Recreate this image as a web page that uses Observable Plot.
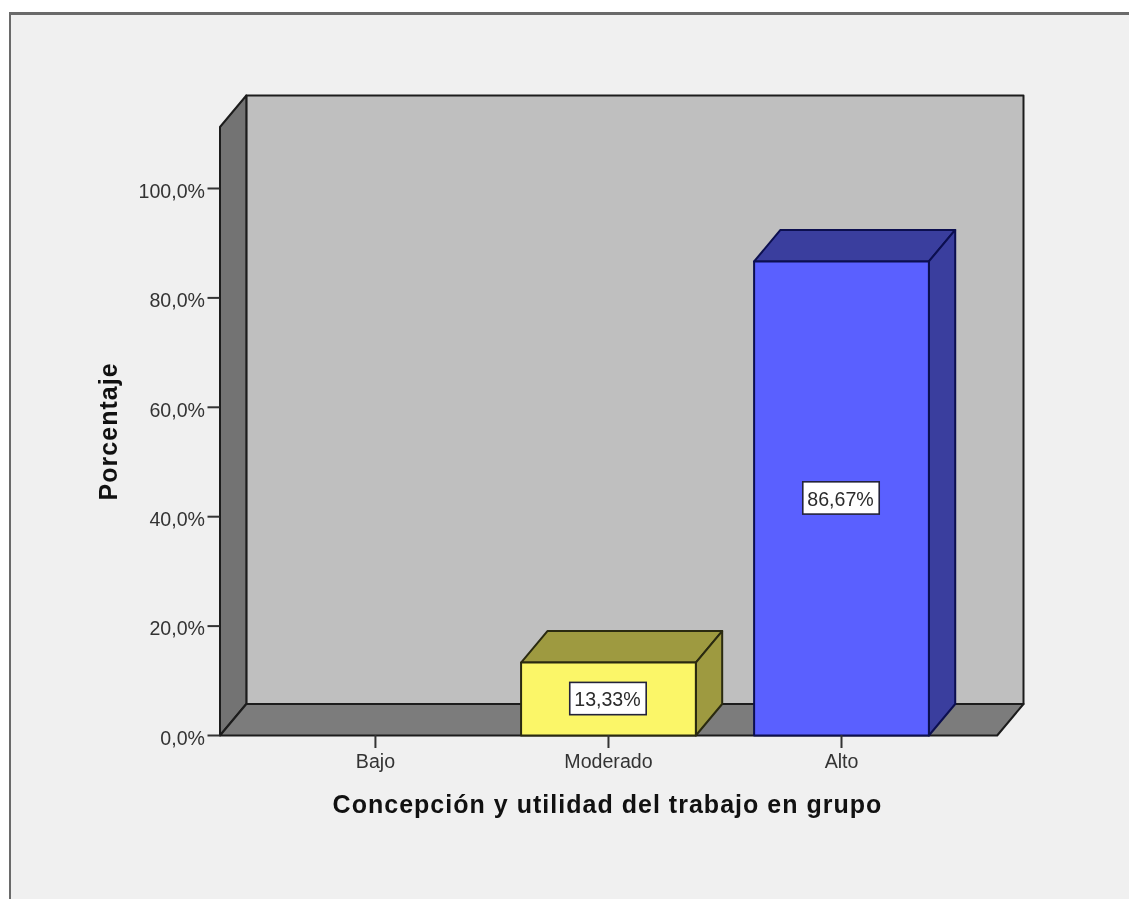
<!DOCTYPE html>
<html lang="es">
<head>
<meta charset="utf-8">
<title>Concepción y utilidad del trabajo en grupo</title>
<script src="https://cdn.jsdelivr.net/npm/d3@7"></script>
<script src="https://cdn.jsdelivr.net/npm/@observablehq/plot@0.6"></script>
<style>
  html, body { margin: 0; padding: 0; background: #fff; }
  #panel { position: fixed; left: 9px; top: 12px; right: 0; bottom: 0; background: #f0f0f0;
           border-left: 2px solid #6a6a6a; border-top: 3px solid #6a6a6a; }
  #chart { position: absolute; left: 0; top: 0; }
  #chart svg { display: block; background: transparent; }
  .axis-title { letter-spacing: 1.02px; }
</style>
</head>
<body>
<div id="panel"></div>
<div id="chart"></div>
<script>
// Survey results: share of respondents per level
const categories = ["Bajo", "Moderado", "Alto"];
const percentages = [0, 13.33, 86.67];
const valueLabels = ["", "13,33%", "86,67%"];
const barFills = ["#ffff66", "#fbf668", "#5a60ff"];
const barTops = ["#9e9a40", "#9e9a40", "#3a3e9e"];
const percentTicks = [0, 20, 40, 60, 80, 100];

// Extents of the pseudo-3D box, in data units
const xStart = -0.667, xEnd = 2.668;
const xDepth = 0.113, yDepth = 5.76;
const yFrontTop = 111.24;
const barHalf = 0.375;
const boxHalfX = 0.164, boxHalfY = 2.95;

const outline = "#1c1c1c";
const tickFont = 19.6;

// A closed polygon in data coordinates
function face(points, fill, stroke = outline) {
  return Plot.line(points.map(([x, y]) => ({x, y})), {
    x: "x", y: "y", fill, stroke, strokeWidth: 2, curve: "linear-closed", strokeLinejoin: "round"
  });
}

const walls = [
  face([[xStart + xDepth, yDepth], [xEnd + xDepth, yDepth], [xEnd + xDepth, yFrontTop + yDepth], [xStart + xDepth, yFrontTop + yDepth]], "#bfbfbf"),
  face([[xStart, 0], [xStart + xDepth, yDepth], [xStart + xDepth, yFrontTop + yDepth], [xStart, yFrontTop]], "#737373"),
  face([[xStart, 0], [xEnd, 0], [xEnd + xDepth, yDepth], [xStart + xDepth, yDepth]], "#7c7c7c")
];

// Each non-empty category becomes a box with front, top and side faces
const bars = percentages.flatMap((v, i) => {
  if (v === 0) return [];
  const a = i - barHalf, b = i + barHalf;
  const edge = i === 2 ? "#0c0f50" : "#2a2a10";
  return [
    face([[a, v], [b, v], [b + xDepth, v + yDepth], [a + xDepth, v + yDepth]], barTops[i], edge),
    face([[b, 0], [b + xDepth, yDepth], [b + xDepth, v + yDepth], [b, v]], barTops[i], edge),
    face([[a, 0], [b, 0], [b, v], [a, v]], barFills[i], edge)
  ];
});

const labelled = categories.map((c, i) => ({i, v: percentages[i], text: valueLabels[i]})).filter(d => d.v > 0);

const chart = Plot.plot({
  width: 1129,
  height: 899,
  marginLeft: 219.5,
  marginRight: 106,
  marginTop: 95,
  marginBottom: 164,
  style: {background: "transparent", fontFamily: "'Liberation Sans', Arial, sans-serif"},
  x: {domain: [xStart, xEnd + xDepth]},
  y: {domain: [0, yFrontTop + yDepth]},
  marks: [
    ...walls,
    ...bars,
    Plot.rect(labelled, {
      x1: d => d.i - boxHalfX, x2: d => d.i + boxHalfX,
      y1: d => d.v / 2 - boxHalfY, y2: d => d.v / 2 + boxHalfY,
      fill: "#fff", stroke: "#23233a", strokeWidth: 1.6
    }),
    Plot.text(labelled, {
      x: "i", y: d => d.v / 2, text: "text", fontSize: tickFont, fill: "#2b2b2b", dx: -1, dy: 1
    }),
    Plot.axisX({
      ticks: [0, 1, 2], tickFormat: i => categories[i], tickSize: 13, tickPadding: 6,
      fontSize: tickFont, color: "#333", strokeWidth: 2, label: null
    }),
    // Tick lines and labels are separate so the labels can sit slightly below their ticks
    Plot.axisY({
      ticks: percentTicks, tickFormat: null, text: null,
      tickSize: 12, color: "#333", strokeWidth: 2, label: null
    }),
    Plot.axisY({
      ticks: percentTicks, tickFormat: d => d.toFixed(1).replace(".", ",") + "%",
      tickSize: 0, tickPadding: 15, dy: 3, fontSize: tickFont, color: "#333", label: null
    }),
    Plot.text(["Concepción y utilidad del trabajo en grupo"], {
      x: () => 1, frameAnchor: "bottom", dy: 77, dx: -1, fontSize: 25, fontWeight: "bold",
      fill: "#111", className: "axis-title"
    }),
    Plot.text(["Porcentaje"], {
      y: () => 55.6, frameAnchor: "left", textAnchor: "middle", dx: -111, rotate: -90,
      fontSize: 25, fontWeight: "bold", fill: "#111", className: "axis-title"
    })
  ]
});

document.getElementById("chart").appendChild(chart);
</script>
</body>
</html>
